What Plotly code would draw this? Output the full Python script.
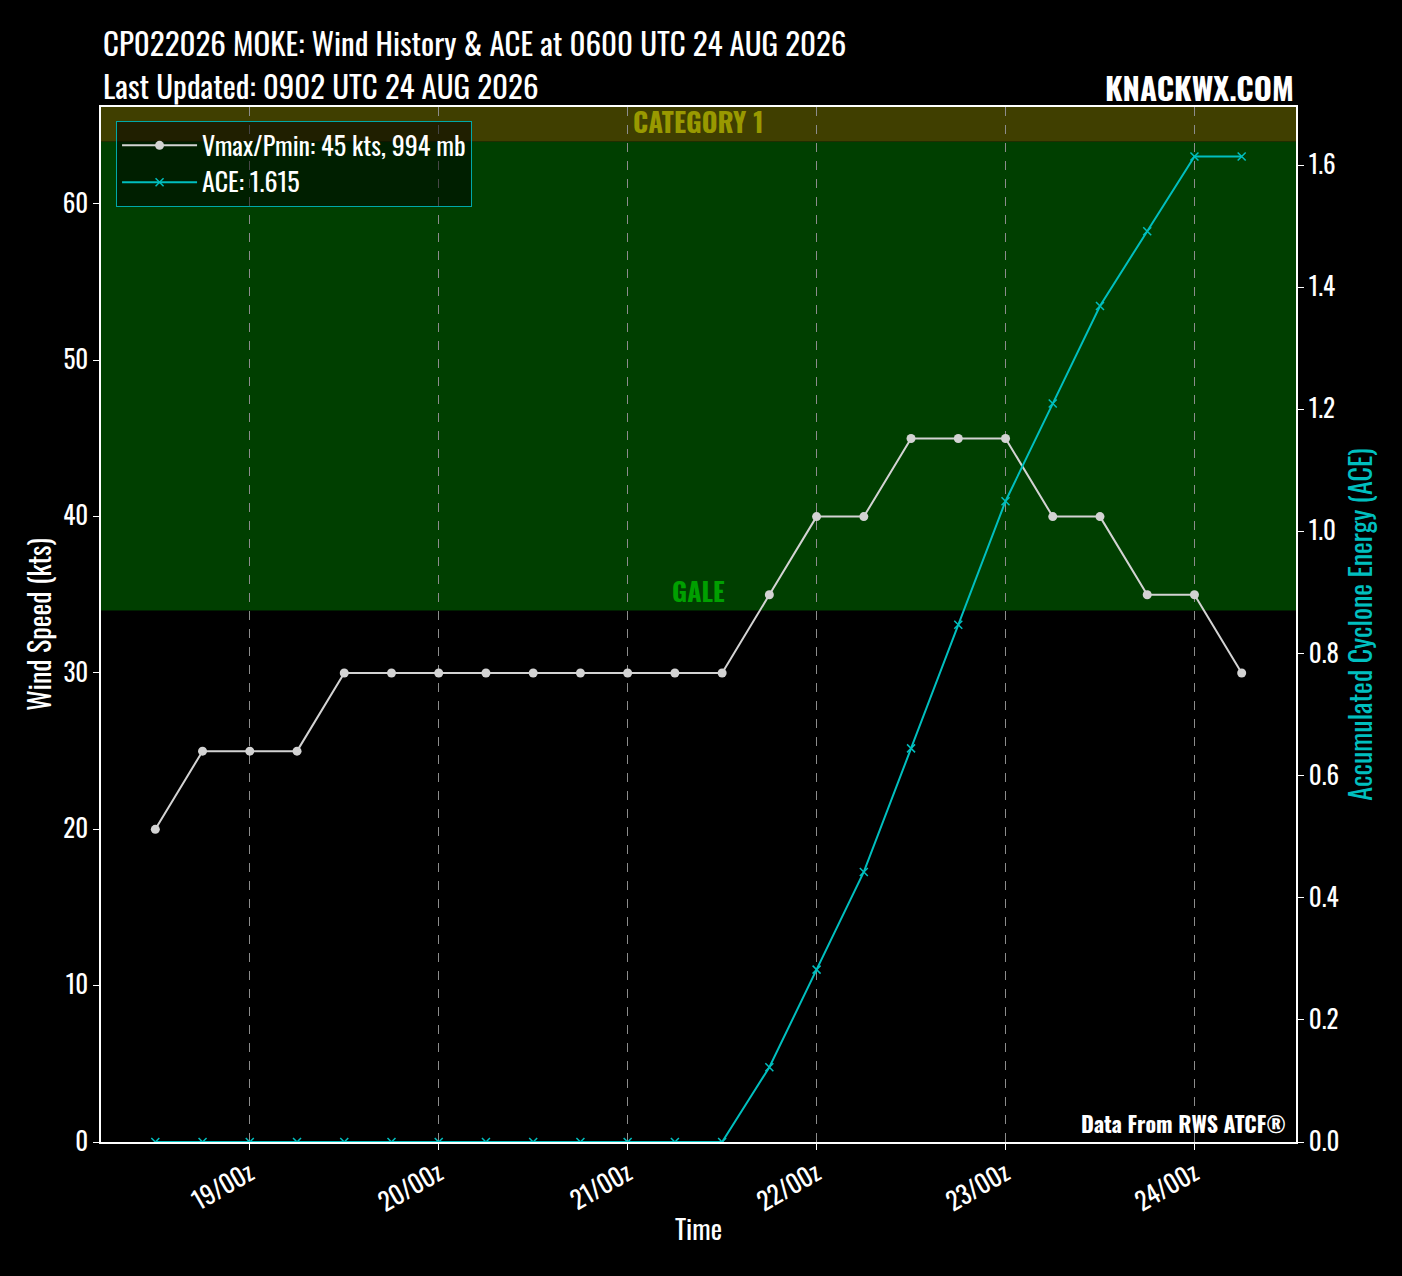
import plotly.graph_objects as go

# -----------------------------
# Storm data (6-hourly best track)
# -----------------------------
times = [
    "2026-08-18 12:00", "2026-08-18 18:00",
    "2026-08-19 00:00", "2026-08-19 06:00", "2026-08-19 12:00", "2026-08-19 18:00",
    "2026-08-20 00:00", "2026-08-20 06:00", "2026-08-20 12:00", "2026-08-20 18:00",
    "2026-08-21 00:00", "2026-08-21 06:00", "2026-08-21 12:00", "2026-08-21 18:00",
    "2026-08-22 00:00", "2026-08-22 06:00", "2026-08-22 12:00", "2026-08-22 18:00",
    "2026-08-23 00:00", "2026-08-23 06:00", "2026-08-23 12:00", "2026-08-23 18:00",
    "2026-08-24 00:00", "2026-08-24 06:00",
]
vmax = [20, 25, 25, 25, 30, 30, 30, 30, 30, 30, 30, 30, 30, 35,
        40, 40, 45, 45, 45, 40, 40, 35, 35, 30]
ace = [0, 0, 0, 0, 0, 0, 0, 0, 0, 0, 0, 0, 0, 0.1225,
       0.2825, 0.4425, 0.645, 0.8475, 1.05, 1.21, 1.37, 1.4925, 1.615, 1.615]

tick_vals = ["2026-08-19", "2026-08-20", "2026-08-21",
             "2026-08-22", "2026-08-23", "2026-08-24"]
tick_text = ["19/00z", "20/00z", "21/00z", "22/00z", "23/00z", "24/00z"]

wind_range = [0, 66.2]
ace_range = [0, 1.696]
x_range = ["2026-08-18 05:06", "2026-08-24 12:54"]

FONT = "Oswald, 'Liberation Sans Narrow', 'DejaVu Sans Condensed', 'Roboto', sans-serif"
ACE_COLOR = "#00bfbf"
WIND_COLOR = "#d3d3d3"

fig = go.Figure()

fig.add_trace(go.Scatter(
    x=times, y=vmax,
    mode="lines+markers",
    line=dict(color=WIND_COLOR, width=2),
    marker=dict(symbol="circle", size=9, color=WIND_COLOR),
    name="Vmax/Pmin: 45 kts, 994 mb",
    yaxis="y",
))

fig.add_trace(go.Scatter(
    x=times, y=ace,
    mode="lines+markers",
    line=dict(color=ACE_COLOR, width=2),
    marker=dict(symbol="x-thin", size=8, color=ACE_COLOR,
                line=dict(color=ACE_COLOR, width=1.5)),
    name="ACE: 1.615",
    yaxis="y2",
))

# -----------------------------
# Intensity bands
# -----------------------------
fig.add_shape(type="rect", xref="paper", yref="y", x0=0, x1=1, y0=34, y1=64,
              fillcolor="#003f00", line_width=0, layer="below")
fig.add_shape(type="rect", xref="paper", yref="y", x0=0, x1=1, y0=64, y1=wind_range[1],
              fillcolor="#403f00", line_width=0, layer="below")

fig.add_annotation(x=0.5, xref="paper", y=34, yref="y", text="<b>GALE</b>",
                   showarrow=False, yanchor="bottom", yshift=-2,
                   font=dict(family=FONT, size=26, color="#00a000"))
fig.add_annotation(x=0.5, xref="paper", y=64, yref="y", text="<b>CATEGORY 1</b>",
                   showarrow=False, yanchor="bottom", yshift=-2,
                   font=dict(family=FONT, size=27, color="#999900"))

# -----------------------------
# Titles and credits
# -----------------------------
fig.add_annotation(x=0, xref="paper", y=1.0628, yref="paper", xanchor="left", yanchor="middle",
                   text="CP022026 MOKE: Wind History & ACE at 0600 UTC 24 AUG 2026",
                   showarrow=False, font=dict(family=FONT, size=31, color="white"))
fig.add_annotation(x=0, xref="paper", y=1.0213, yref="paper", xanchor="left", yanchor="middle",
                   text="Last Updated: 0902 UTC 24 AUG 2026",
                   showarrow=False, font=dict(family=FONT, size=31, color="white"))
fig.add_annotation(x=1, xref="paper", y=1.019, yref="paper", xanchor="right", yanchor="middle",
                   text="<b>KNACKWX.COM</b>",
                   showarrow=False, font=dict(family=FONT, size=31, color="white"))
fig.add_annotation(x=0.993, xref="paper", y=0.018, yref="paper", xanchor="right", yanchor="middle",
                   text="<b>Data From RWS ATCF®</b>",
                   showarrow=False, font=dict(family=FONT, size=22, color="white"))

axis_common = dict(
    showline=True, linecolor="white", linewidth=1.5,
    ticks="outside", tickcolor="white", ticklen=6,
    tickfont=dict(family=FONT, size=25, color="white"),
    zeroline=False,
)

fig.update_layout(
    width=1402, height=1276,
    paper_bgcolor="black", plot_bgcolor="black",
    margin=dict(l=101, r=106, t=107, b=134),
    font=dict(family=FONT, color="white"),
    showlegend=True,
    legend=dict(
        x=0.0126, y=0.9865, xanchor="left", yanchor="top",
        bgcolor="rgba(0,0,0,0.5)", bordercolor="#00a8a8", borderwidth=1,
        font=dict(family=FONT, size=26, color="white"),
        itemwidth=75, tracegroupgap=4,
    ),
    xaxis=dict(
        **axis_common,
        type="date", range=x_range,
        tickvals=tick_vals, ticktext=tick_text, tickangle=-30,
        showgrid=True, gridcolor="#8c8c8c", griddash="dash", gridwidth=1,
        mirror=True,
        title=dict(text="Time", font=dict(family=FONT, size=27, color="white"), standoff=4),
    ),
    yaxis=dict(
        **axis_common,
        range=wind_range, dtick=10, showgrid=False,
        title=dict(text="Wind Speed (kts)", font=dict(family=FONT, size=28, color="white"), standoff=3),
    ),
    yaxis2=dict(
        **axis_common,
        overlaying="y", side="right",
        range=ace_range, dtick=0.2, tickformat=".1f", showgrid=False,
        title=dict(text="Accumulated Cyclone Energy (ACE)",
                   font=dict(family=FONT, size=28, color=ACE_COLOR), standoff=4),
    ),
)

fig.write_html("out.html", config={"displayModeBar": False},
               post_script="document.body.style.margin='0';")
